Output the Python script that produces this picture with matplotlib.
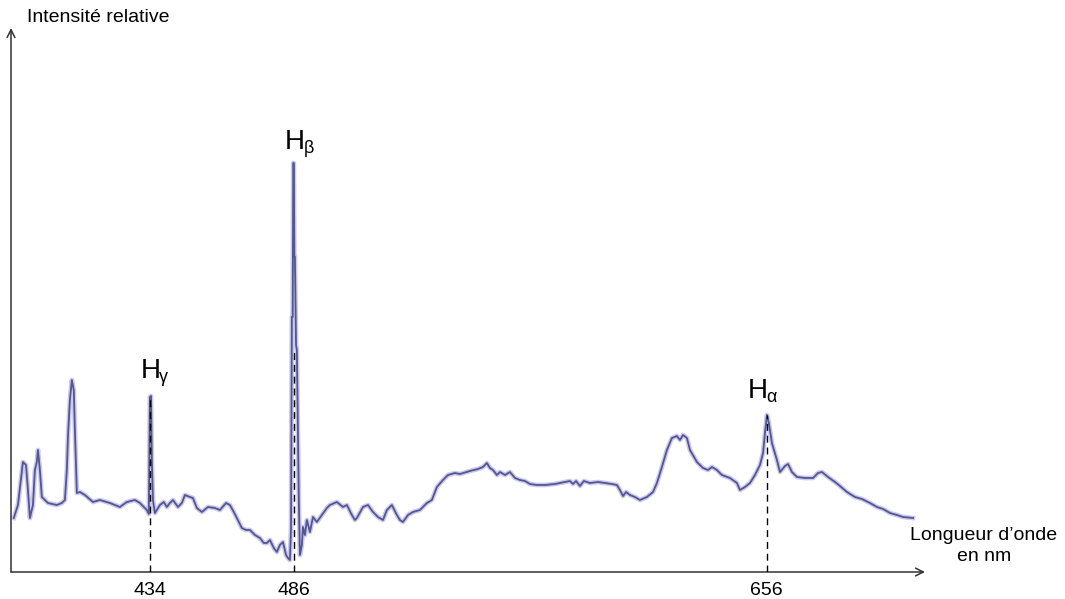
import matplotlib

matplotlib.use("Agg")
import matplotlib.pyplot as plt  # noqa: E402

plt.rcParams["font.family"] = ["Liberation Sans", "DejaVu Sans"]

# Spectrum: wavelength (nm) and relative intensity (a.u.)
wavelength = [
    385.0, 386.5, 388.3, 389.4, 390.1, 390.8, 391.9, 392.6, 393.3, 393.7,
    394.4, 395.1, 397.3, 400.5, 402.3, 403.4, 404.1, 404.5, 405.2, 405.9,
    406.6, 407.0, 407.7, 408.8, 410.6, 413.5, 416.0, 419.6, 423.2, 425.7,
    428.6, 430.4, 432.9, 433.6, 434.0, 434.4, 434.7, 435.1, 435.8, 437.6,
    439.0, 440.1, 441.2, 442.3, 444.1, 445.5, 446.6, 448.4, 449.5, 450.9,
    452.7, 454.9, 457.4, 459.2, 461.4, 462.8, 464.2, 465.3, 467.1, 468.6,
    470.0, 471.8, 473.6, 475.0, 476.1, 477.2, 478.6, 479.7, 480.8, 481.9,
    483.0, 483.7, 484.4, 484.8, 485.1, 485.4, 485.6, 485.8, 486.0, 486.2,
    486.6, 486.9, 487.3, 487.6, 488.0, 488.7, 489.1, 489.8, 490.5, 491.6,
    492.7, 494.1, 495.9, 497.7, 498.8, 501.3, 503.5, 504.9, 506.7, 507.8,
    508.5, 510.7, 512.5, 514.3, 516.1, 517.9, 519.3, 521.1, 522.9, 524.0,
    525.1, 526.9, 528.7, 531.2, 533.7, 535.5, 537.3, 539.5, 541.3, 543.8,
    545.6, 549.2, 552.1, 553.9, 555.3, 556.4, 557.5, 558.9, 560.0, 561.8,
    563.6, 565.4, 567.2, 569.0, 570.8, 573.3, 576.2, 579.8, 583.4, 585.2,
    586.3, 587.4, 588.8, 590.2, 592.4, 595.3, 597.8, 600.3, 602.1, 603.2,
    604.3, 605.4, 606.8, 608.6, 610.4, 612.9, 615.1, 616.5, 618.3, 620.1,
    621.9, 623.7, 624.8, 625.9, 627.3, 628.4, 630.9, 633.1, 634.9, 636.3,
    638.1, 639.9, 642.8, 645.3, 646.4, 648.2, 650.0, 651.8, 653.6, 654.7,
    655.4, 656.1, 656.8, 657.9, 659.7, 660.8, 662.6, 663.7, 665.1, 666.9,
    669.8, 672.7, 674.5, 675.9, 678.1, 680.6, 682.4, 684.9, 687.8, 690.3,
    693.2, 695.7, 697.9, 700.4, 702.9, 705.1, 708.7,
]
intensity = [
    54, 67, 110, 107, 82, 54, 67, 102, 110, 122,
    102, 75, 69, 67, 69, 72, 102, 135, 172, 192,
    182, 142, 79, 80, 77, 70, 72, 69, 65, 70,
    72, 69, 62, 58, 175, 176, 112, 72, 59, 67,
    70, 65, 69, 72, 65, 69, 77, 75, 74, 64,
    60, 65, 64, 62, 69, 67, 60, 54, 44, 42,
    42, 37, 34, 29, 29, 32, 24, 20, 27, 30,
    17, 14, 12, 44, 255, 255, 409, 409, 315, 315,
    227, 222, 132, 72, 17, 27, 45, 37, 52, 40,
    55, 50, 57, 64, 67, 70, 65, 67, 57, 52,
    54, 65, 67, 60, 55, 52, 62, 67, 57, 52,
    50, 57, 60, 62, 69, 72, 85, 92, 97, 99,
    98, 101, 103, 105, 109, 104, 102, 97, 100, 97,
    100, 94, 92, 91, 88, 87, 87, 88, 90, 91,
    88, 91, 86, 91, 89, 90, 89, 88, 87, 82,
    76, 80, 77, 75, 72, 75, 80, 89, 105, 122,
    134, 136, 132, 137, 134, 122, 110, 104, 102, 105,
    102, 97, 94, 89, 82, 85, 89, 97, 107, 119,
    139, 157, 149, 129, 112, 100, 106, 108, 100, 95,
    94, 94, 99, 100, 95, 90, 86, 80, 75, 73,
    69, 65, 63, 59, 57, 55, 54,
]

# Marked hydrogen lines
line_nm = [434, 486, 656]
line_top = [175, 222, 157]
line_names = ["H", "H", "H"]
line_subs = ["γ", "β", "α"]
label_pos = [(434.2, 194), (486.2, 423), (652.9, 174)]

W, H = 1065, 599
fig = plt.figure(figsize=(W / 100, H / 100), dpi=100)
ax = fig.add_axes([11 / W, 27 / H, 914 / W, 544 / H])
ax.set_xlim(384.0, 713.0)
ax.set_ylim(0, 544)
for s in ax.spines.values():
    s.set_visible(False)

# soft halo + darker core, like the scanned trace
ax.plot(wavelength, intensity, color="#b4b4ea", lw=3.4, alpha=0.7,
        solid_joinstyle="round", zorder=2)
ax.plot(wavelength, intensity, color="#55558f", lw=1.3,
        solid_joinstyle="round", zorder=3)

for x, top in zip(line_nm, line_top):
    ax.plot([x, x], [0, top], color="black", lw=1.0, ls=(0, (5, 3.5)), zorder=4)

for (px, py), name, sub in zip(label_pos, line_names, line_subs):
    ax.text(px, py, name, fontsize=20, ha="center", va="baseline")
    ax.annotate(sub, xy=(px, py), xytext=(6, -3), textcoords="offset points",
                fontsize=13, ha="left", va="baseline")

# axes as arrows
arrow = dict(arrowstyle="->", color="#333333", lw=1.1, mutation_scale=14,
             shrinkA=0, shrinkB=0)
ax.annotate("", xy=(1, 0), xytext=(0, 0), xycoords="axes fraction",
            arrowprops=arrow, annotation_clip=False)
ax.annotate("", xy=(0, 1), xytext=(0, 0), xycoords="axes fraction",
            arrowprops=arrow, annotation_clip=False)

ax.set_yticks([])
ax.set_xticks(line_nm)
ax.set_xticklabels([str(v) for v in line_nm])
ax.tick_params(axis="x", length=0, pad=7, labelsize=14)

fig.text(27 / W, 1 - 18 / H, "Intensité relative", fontsize=14, va="center")
fig.text(984 / W, 1 - 546 / H, "Longueur d’onde\nen nm", fontsize=14,
         ha="center", va="center", linespacing=1.25)

fig.savefig("out.png", dpi=100)
